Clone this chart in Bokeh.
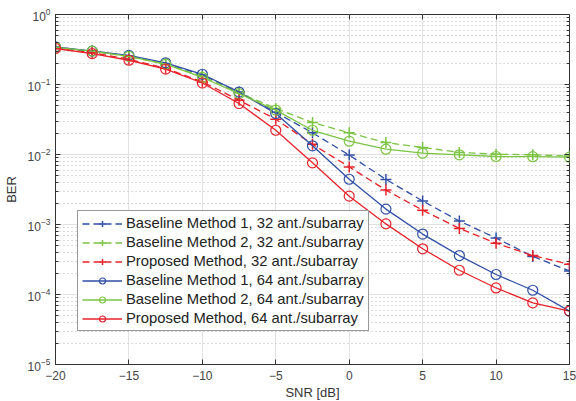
from bokeh.plotting import figure
from bokeh.models import (FixedTicker, LogAxis, LinearAxis, Legend, LegendItem,
                          Range1d, CustomJSTickFormatter)
from bokeh.embed import file_html
from bokeh.resources import INLINE

snr = [-20, -17.5, -15, -12.5, -10, -7.5, -5, -2.5, 0, 2.5, 5, 7.5, 10, 12.5, 15]

bm1_32 = [0.34, 0.30, 0.255, 0.20, 0.137, 0.078, 0.040, 0.0204, 0.0098, 0.0044,
          0.00217, 0.00112, 0.00064, 0.00035, 0.000217]
bm2_32 = [0.34, 0.30, 0.25, 0.195, 0.13, 0.076, 0.0454, 0.0287, 0.0204, 0.0148,
          0.0126, 0.0107, 0.0101, 0.0099, 0.0095]
prop_32 = [0.33, 0.285, 0.23, 0.17, 0.109, 0.0597, 0.0319, 0.014, 0.00665, 0.0031,
           0.0016, 0.00088, 0.00054, 0.00036, 0.00027]
bm1_64 = [0.344, 0.30, 0.26, 0.204, 0.14, 0.078, 0.0385, 0.0133, 0.00443, 0.00166,
          0.00073, 0.00036, 0.000193, 0.000115, 0.000058]
bm2_64 = [0.34, 0.30, 0.252, 0.195, 0.126, 0.074, 0.043, 0.0222, 0.0155, 0.0119,
          0.01044, 0.0099, 0.00936, 0.0093, 0.00915]
prop_64 = [0.327, 0.277, 0.222, 0.166, 0.105, 0.0535, 0.0222, 0.0076, 0.00254, 0.00102,
           0.00045, 0.000222, 0.000124, 0.000076, 0.000058]

labels = ["Baseline Method 1, 32 ant./subarray",
          "Baseline Method 2, 32 ant./subarray",
          "Proposed Method, 32 ant./subarray",
          "Baseline Method 1, 64 ant./subarray",
          "Baseline Method 2, 64 ant./subarray",
          "Proposed Method, 64 ant./subarray"]

x_ticks = [-20, -15, -10, -5, 0, 5, 10, 15]
decades = [-5, -4, -3, -2, -1, 0]

BLUE = "#2F4FA6"
GREEN = "#7CC444"
RED = "#E8222B"
FONT = "Liberation Sans"

y_major = [10.0 ** d for d in decades]
y_minor = [m * 10.0 ** d for d in decades[:-1] for m in range(2, 10)]

p = figure(frame_width=514, frame_height=350, y_axis_type="log",
           x_range=Range1d(-20, 15), y_range=Range1d(1e-5, 1),
           output_backend="svg", toolbar_location=None,
           min_border_left=55, min_border_right=7, min_border_top=14,
           min_border_bottom=37)

p.border_fill_color = "white"
p.outline_line_color = "#333333"
p.outline_line_width = 1
p.background_fill_color = "white"

# grids
p.xgrid.ticker = FixedTicker(ticks=x_ticks)
p.xgrid.grid_line_color = "#E2E2E2"
p.xgrid.grid_line_width = 1
p.ygrid.ticker = FixedTicker(ticks=y_major, minor_ticks=y_minor)
p.ygrid.grid_line_color = "#E2E2E2"
p.ygrid.grid_line_width = 1
p.ygrid.minor_grid_line_color = "#B8B8B8"
p.ygrid.minor_grid_line_dash = "1 3"
p.ygrid.minor_grid_line_width = 1


def style_axis(ax):
    ax.axis_line_color = "#333333"
    ax.major_tick_line_color = "#333333"
    ax.minor_tick_line_color = "#333333"
    ax.major_tick_in = 5
    ax.major_tick_out = 0
    ax.minor_tick_in = 3
    ax.minor_tick_out = 0
    ax.major_label_text_font = FONT
    ax.major_label_text_font_size = "12px"
    ax.major_label_text_color = "#444444"
    ax.axis_label_text_font = FONT
    ax.axis_label_text_font_size = "13px"
    ax.axis_label_text_font_style = "normal"
    ax.axis_label_text_color = "#333333"


xa = p.xaxis[0]
xa.ticker = FixedTicker(ticks=x_ticks)
xa.axis_label = "SNR [dB]"
xa.axis_label_standoff = 2
xa.major_label_standoff = 6
style_axis(xa)

ya = p.yaxis[0]
ya.ticker = FixedTicker(ticks=y_major, minor_ticks=y_minor)
ya.axis_label = "BER"
ya.axis_label_standoff = 6
ya.major_label_standoff = 5
style_axis(ya)

blank = CustomJSTickFormatter(code="return '';")

top = LinearAxis(ticker=FixedTicker(ticks=x_ticks), formatter=blank)
style_axis(top)
top.axis_line_color = None
top.major_label_standoff = 0
p.add_layout(top, "above")

right = LogAxis(ticker=FixedTicker(ticks=y_major, minor_ticks=y_minor), formatter=blank)
style_axis(right)
right.axis_line_color = None
right.major_label_standoff = 0
p.add_layout(right, "right")

series = [
    (bm1_32, BLUE, "dashed", "cross"),
    (bm2_32, GREEN, "dashed", "cross"),
    (prop_32, RED, "dashed", "cross"),
    (bm1_64, BLUE, "solid", "circle"),
    (bm2_64, GREEN, "solid", "circle"),
    (prop_64, RED, "solid", "circle"),
]

items = []
for (vals, col, dash, marker), lab in zip(series, labels):
    ld = "7 4" if dash == "dashed" else "solid"
    r1 = p.line(snr, vals, line_color=col, line_width=1.3, line_dash=ld)
    if marker == "circle":
        r2 = p.scatter(snr, vals, marker="circle", size=10, fill_color=None,
                       line_color=col, line_width=1.2)
    else:
        r2 = p.scatter(snr, vals, marker="cross", size=11,
                       line_color=col, line_width=1.5)
    items.append(LegendItem(label=lab, renderers=[r1, r2]))

legend = Legend(items=items, location=(22, 33))
legend.label_text_font = FONT
legend.label_text_font_size = "14.8px"
legend.label_text_color = "#222222"
legend.label_height = 15
legend.glyph_height = 15
legend.glyph_width = 40
legend.spacing = 3
legend.padding = 4
legend.margin = 0
legend.label_standoff = 4
legend.border_line_color = "#333333"
legend.border_line_width = 1
legend.background_fill_alpha = 1
p.add_layout(legend, "center")

open("out.html", "w").write(file_html(p, INLINE))
